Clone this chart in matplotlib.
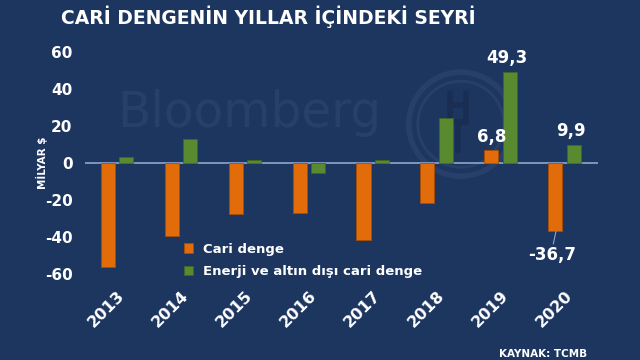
import matplotlib
matplotlib.use('Agg')
import matplotlib.pyplot as plt
import numpy as np
from matplotlib.patches import Ellipse
from matplotlib.lines import Line2D

years = ['2013', '2014', '2015', '2016', '2017', '2018', '2019', '2020']
cari = [-56.5, -39.3, -27.5, -27.3, -41.5, -21.9, 6.8, -36.7]
enerji_disi = [3.3, 13.1, 1.6, -5.2, 1.7, 24.5, 49.3, 9.9]

# etiket gösterilecek çubuklar: yıl indeksi -> metin
etiketler_cari = {6: '6,8', 7: '-36,7'}
etiketler_enerji = {6: '49,3', 7: '9,9'}

BG = '#1d365f'
ORANGE = '#e36c0a'
GREEN = '#5a8a30'
WM = '#283f6a'

plt.rcParams['font.family'] = ['DejaVu Sans']
plt.rcParams['axes.unicode_minus'] = False

fig = plt.figure(figsize=(6.4, 3.6), dpi=100)
fig.patch.set_facecolor(BG)
ax = fig.add_axes([0.133, 0.239, 0.801, 0.617])
ax.set_facecolor('none')

# filigran (Bloomberg + HT logosu)
fig.text(0.389, 0.685, 'Bloomberg', color=WM, fontsize=35,
         ha='center', va='center', zorder=0)
for d, lw in [(104, 4), (86, 2)]:
    e = Ellipse((0.72, 0.655), d / 640, d / 360, transform=fig.transFigure,
                fill=False, ec=WM, lw=lw, zorder=0)
    fig.add_artist(e)
for xs, ys in [([450, 450], [93, 118]), ([466, 466], [93, 118]),
               ([450, 466], [105, 105]), ([450, 466], [122, 122]),
               ([458, 458], [122, 150])]:
    fig.add_artist(Line2D([v / 640 for v in xs], [1 - v / 360 for v in ys],
                          transform=fig.transFigure, color='#1a2e54', lw=4,
                          zorder=0))

x = np.arange(len(years))
w = 0.22
off = 0.145
ax.bar(x - off, cari, w, color=ORANGE, edgecolor='#a84d06', lw=0.6,
       label='Cari denge', zorder=3)
ax.bar(x + off, enerji_disi, w, color=GREEN, edgecolor='#416622', lw=0.6,
       label='Enerji ve altın dışı cari denge', zorder=3)

ax.axhline(0, color='#8ea6cc', lw=1.2, zorder=2)

lab_kw = dict(color='white', fontsize=12, fontweight='bold', ha='center')
for i, t in etiketler_cari.items():
    v = cari[i]
    if v >= 0:
        ax.text(x[i] - off, v + 2.5, t, va='bottom', **lab_kw)
    else:
        ax.plot([x[i] - off + 0.01, x[i] - off - 0.03], [v - 0.5, v - 7],
                color='#8ea6cc', lw=0.8, zorder=3)
        ax.text(x[i] - off - 0.05, v - 8, t, va='top', **lab_kw)
for i, t in etiketler_enerji.items():
    ax.text(x[i] + off - 0.05, enerji_disi[i] + 2.5, t, va='bottom', **lab_kw)

ax.set_xlim(-0.5, 7.52)
ax.set_ylim(-60, 60)
ax.set_yticks([-60, -40, -20, 0, 20, 40, 60])
ax.set_xticks(x)
ax.set_xticklabels(years, rotation=45, ha='right', rotation_mode='anchor')
ax.tick_params(axis='both', length=0, colors='white', labelsize=11)
ax.tick_params(axis='x', pad=10, labelsize=11.5)
ax.tick_params(axis='y', pad=9)
for lab in ax.get_xticklabels() + ax.get_yticklabels():
    lab.set_fontweight('bold')
for s in ax.spines.values():
    s.set_visible(False)

ax.set_ylabel('MİLYAR $', color='white', fontsize=7.5, fontweight='bold',
              labelpad=-2)

leg = ax.legend(loc='upper left', bbox_to_anchor=(0.17, 0.195), frameon=False,
                fontsize=9.5, handlelength=0.7, handleheight=0.7,
                handletextpad=0.7, labelspacing=0.7)
for t in leg.get_texts():
    t.set_color('white')
    t.set_fontweight('bold')

fig.text(0.419, 0.953, 'CARİ DENGENİN YILLAR İÇİNDEKİ SEYRİ', color='white',
         fontsize=13.5, fontweight='bold', ha='center', va='center')
fig.text(0.918, 0.004, 'KAYNAK: TCMB', color='white', fontsize=7.5,
         fontweight='bold', ha='right', va='bottom')

fig.savefig('out.png', dpi=100, facecolor=BG)
